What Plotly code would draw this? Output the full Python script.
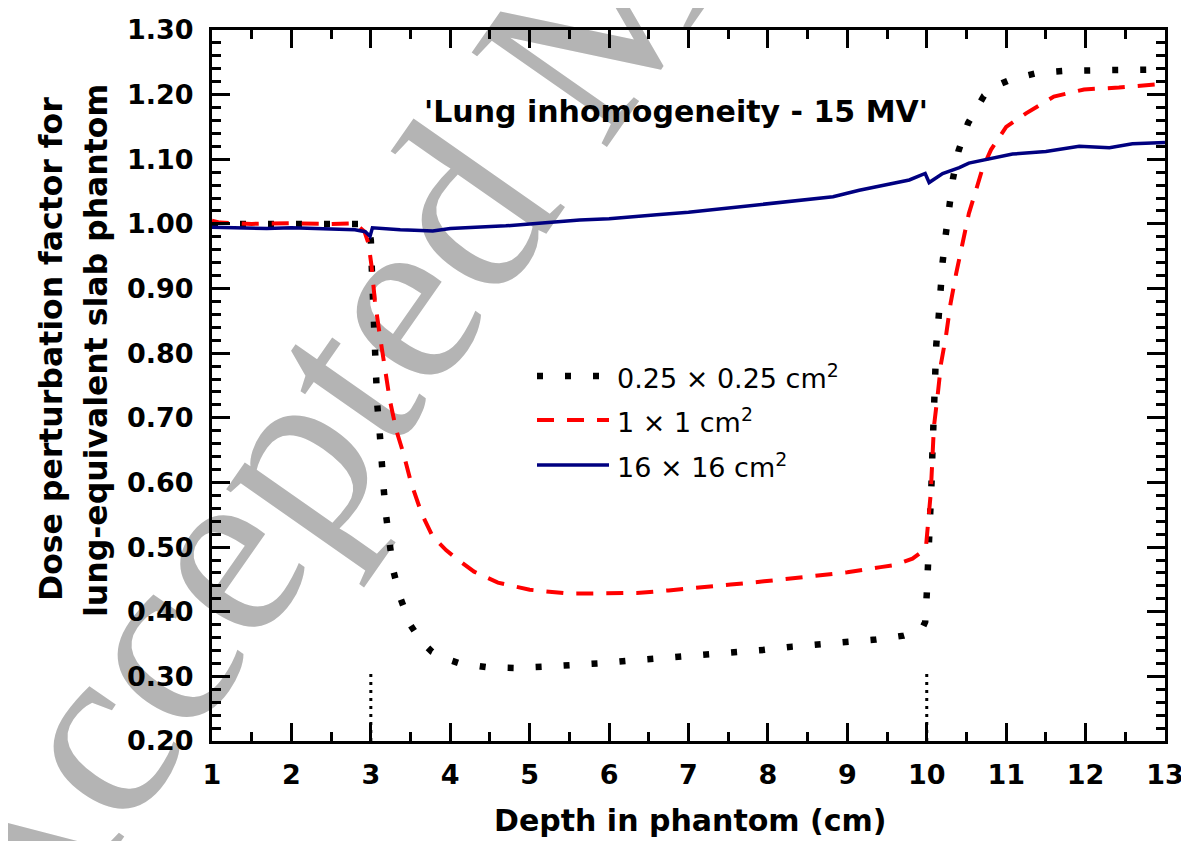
import base64
import plotly.graph_objects as go

# ---------------- data ----------------
depth_025 = [1.0, 1.5, 2.0, 2.5, 2.9, 2.97, 3.0, 3.01, 3.02, 3.04, 3.05, 3.07, 3.08, 3.11, 3.13,
             3.16, 3.19, 3.24, 3.28, 3.37, 3.50, 3.63, 3.77, 3.95, 4.12, 4.47, 4.82, 5.17, 5.52,
             5.87, 6.22, 6.57, 6.92, 7.27, 7.62, 7.96, 8.31, 8.66, 9.01, 9.36, 9.71, 9.85, 9.95,
             9.98, 10.0, 10.02, 10.04, 10.05, 10.06, 10.07, 10.08, 10.09, 10.11, 10.12, 10.15,
             10.17, 10.20, 10.24, 10.28, 10.33, 10.40, 10.52, 10.72, 10.90, 11.07, 11.41, 11.76,
             12.11, 12.45, 12.81, 13.0]
dose_025 = [1.000, 1.000, 1.001, 1.000, 1.000, 0.995, 0.975, 0.938, 0.895, 0.851, 0.808, 0.765,
            0.722, 0.680, 0.636, 0.593, 0.551, 0.508, 0.465, 0.422, 0.379, 0.355, 0.338, 0.327,
            0.320, 0.314, 0.313, 0.315, 0.317, 0.320, 0.324, 0.327, 0.331, 0.334, 0.337, 0.341,
            0.346, 0.349, 0.353, 0.357, 0.363, 0.368, 0.376, 0.384, 0.427, 0.470, 0.513, 0.556,
            0.599, 0.642, 0.685, 0.728, 0.771, 0.813, 0.856, 0.899, 0.941, 0.984, 1.028, 1.070,
            1.113, 1.156, 1.198, 1.215, 1.224, 1.234, 1.237, 1.237, 1.238, 1.238, 1.239]

depth_1 = [1.0, 1.1, 1.5, 2.0, 2.5, 2.8, 2.92, 2.97, 3.01, 3.05, 3.11, 3.18, 3.24, 3.32, 3.41,
           3.51, 3.64, 3.78, 3.95, 4.08, 4.3, 4.6, 5.0, 5.5, 5.96, 6.35, 6.75, 7.14, 7.53, 7.95,
           8.5, 9.0, 9.42, 9.59, 9.82, 9.93, 9.99, 10.02, 10.05, 10.07, 10.09, 10.14, 10.18,
           10.24, 10.30, 10.37, 10.45, 10.53, 10.62, 10.70, 10.81, 11.0, 11.25, 11.6, 11.98,
           12.42, 12.9, 13.0]
dose_1 = [1.005, 1.002, 1.000, 1.001, 1.000, 1.001, 0.988, 0.970, 0.934, 0.882, 0.830, 0.779,
          0.727, 0.681, 0.645, 0.598, 0.552, 0.516, 0.495, 0.482, 0.462, 0.445, 0.434, 0.428,
          0.429, 0.429, 0.433, 0.437, 0.442, 0.447, 0.455, 0.461, 0.469, 0.472, 0.482, 0.492,
          0.500, 0.541, 0.583, 0.634, 0.686, 0.738, 0.784, 0.825, 0.877, 0.923, 0.970, 1.016,
          1.052, 1.085, 1.115, 1.150, 1.171, 1.197, 1.208, 1.211, 1.216, 1.218]

depth_16 = [1.0, 1.3, 1.69, 2.0, 2.3, 2.52, 2.8, 2.93, 2.99, 3.02, 3.2, 3.37, 3.55, 3.78, 4.0,
            4.37, 4.7, 5.0, 5.3, 5.63, 6.0, 6.26, 6.6, 7.0, 7.4, 7.8, 8.1, 8.4, 8.82, 9.15, 9.44,
            9.78, 9.98, 10.03, 10.20, 10.41, 10.53, 10.74, 11.08, 11.5, 11.92, 12.3, 12.59, 13.0]
dose_16 = [0.995, 0.994, 0.993, 0.994, 0.993, 0.992, 0.991, 0.988, 0.981, 0.994, 0.992, 0.991,
           0.990, 0.989, 0.993, 0.995, 0.997, 1.000, 1.003, 1.006, 1.008, 1.011, 1.014, 1.018,
           1.023, 1.028, 1.032, 1.036, 1.042, 1.052, 1.060, 1.068, 1.078, 1.064, 1.078, 1.087,
           1.094, 1.099, 1.108, 1.112, 1.120, 1.118, 1.124, 1.126]

slab_edges = [3, 10]
edge_marker_range = [0.20, 0.31]

series_names = ["0.25 × 0.25 cm<sup>2</sup>", "1 × 1 cm<sup>2</sup>", "16 × 16 cm<sup>2</sup>"]
chart_title = "'Lung inhomogeneity - 15 MV'"
x_title = "Depth in phantom (cm)"
y_title_lines = ["Dose perturbation factor for", "lung-equivalent slab phantom"]
x_ticks = list(range(1, 14))
y_ticks = [0.20, 0.30, 0.40, 0.50, 0.60, 0.70, 0.80, 0.90, 1.00, 1.10, 1.20, 1.30]

# ---------------- layout geometry ----------------
# the page body adds an 8px offset, so the figure is drawn 8px right/down in the window
OFF = 8
W, H = 1189 - OFF, 841 - OFF
ML, MT = 212 - OFF, 30 - OFF
PW, PH = 953, 711
MR, MB = W - ML - PW, H - MT - PH


def px(xp):  # window pixel -> paper x
    return (xp - OFF - ML) / PW


def py(yp):  # window pixel -> paper y
    return 1 - (yp - OFF - MT) / PH


FONT = "DejaVu Sans"
styles = [
    dict(color="black", width=6.5, dash="6px,22px"),
    dict(color="#ff0000", width=4, dash="17px,13px"),
    dict(color="#000080", width=3.5, dash="solid"),
]

fig = go.Figure()
for xs, ys, name, st in zip([depth_025, depth_1, depth_16], [dose_025, dose_1, dose_16],
                            series_names, styles):
    fig.add_trace(go.Scatter(x=xs, y=ys, mode="lines", name=name, line=st, showlegend=False))

for xe in slab_edges:
    fig.add_trace(go.Scatter(x=[xe, xe], y=edge_marker_range, mode="lines", showlegend=False,
                             line=dict(color="black", width=3, dash="3px,5px")))

axis_common = dict(
    showline=True, linecolor="black", linewidth=3, mirror="allticks",
    ticks="inside", ticklen=18, tickwidth=3, tickcolor="black",
    showgrid=False, zeroline=False, automargin=False,
    tickfont=dict(family=FONT, size=27, color="black", weight="bold"),
)
fig.update_xaxes(range=[1, 13], tickvals=x_ticks, ticklabelstandoff=8,
                 minor=dict(ticks="inside", ticklen=9, tickwidth=3, tickcolor="black", dtick=0.5),
                 **axis_common)
fig.update_yaxes(range=[0.2, 1.3], tickvals=y_ticks, tickformat=".2f", ticklabelstandoff=10,
                 minor=dict(ticks="inside", ticklen=9, tickwidth=3, tickcolor="black", dtick=0.02),
                 **axis_common)

annotations = [
    dict(text=chart_title, x=px(676), y=py(92), xref="paper", yref="paper", showarrow=False,
         font=dict(family=FONT, size=30, color="black", weight="bold")),
    dict(text=x_title, x=px(690), y=py(820), xref="paper", yref="paper", showarrow=False,
         yanchor="middle", font=dict(family=FONT, size=30, color="black", weight="bold")),
    dict(text=y_title_lines[0], x=px(31), y=py(349), xref="paper", yref="paper",
         showarrow=False, textangle=-90,
         font=dict(family=FONT, size=31.5, color="black", weight="bold")),
    dict(text=y_title_lines[1], x=px(76), y=py(351), xref="paper", yref="paper",
         showarrow=False, textangle=-90,
         font=dict(family=FONT, size=31.5, color="black", weight="bold")),
]

# legend (manual)
leg_rows = [376, 420, 465]
shapes = []
for yrow, name, st in zip(leg_rows, series_names, styles):
    shapes.append(dict(type="line", xref="paper", yref="paper", x0=px(537), x1=px(609),
                       y0=py(yrow), y1=py(yrow), line=st, layer="above"))
    annotations.append(dict(text=name, x=px(615), y=py(yrow), xref="paper", yref="paper",
                            showarrow=False, xanchor="left", yanchor="middle",
                            font=dict(family=FONT, size=27, color="black")))

wm_svg = (
    f'<svg xmlns="http://www.w3.org/2000/svg" width="{W}" height="{H}" viewBox="0 0 {W} {H}">'
    f'<text x="0" y="0" transform="translate({21 - OFF},{984 - OFF}) rotate(-55)" '
    'font-family="Liberation Serif, Times New Roman, serif" font-size="252" fill="#b4b4b4">'
    'Accepted Manuscript</text></svg>'
)
wm_src = "data:image/svg+xml;base64," + base64.b64encode(wm_svg.encode("utf-8")).decode("ascii")

fig.update_layout(
    width=W, height=H,
    margin=dict(l=ML, r=MR, t=MT, b=MB, autoexpand=False),
    paper_bgcolor="white", plot_bgcolor="rgba(0,0,0,0)",
    showlegend=False,
    annotations=annotations,
    shapes=shapes,
    images=[dict(source=wm_src, xref="paper", yref="paper", x=-ML / PW, y=1 + MT / PH,
                 sizex=W / PW, sizey=H / PH, xanchor="left", yanchor="top",
                 sizing="stretch", layer="below")],
)

fig.write_html("out.html")
